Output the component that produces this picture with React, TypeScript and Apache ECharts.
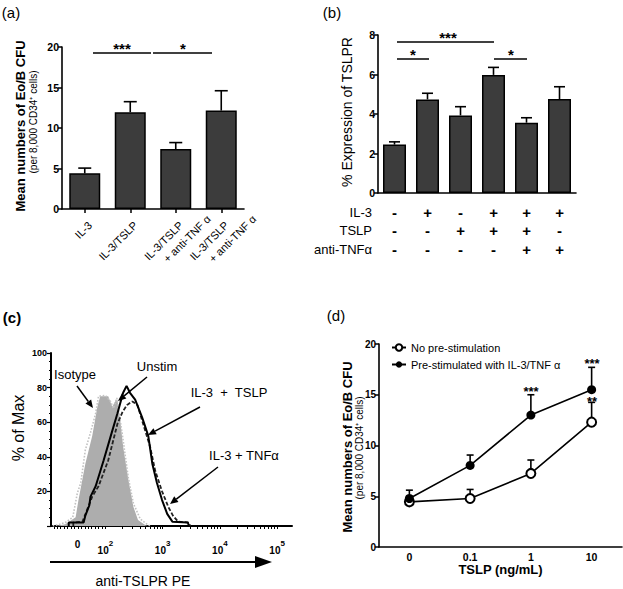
import React, { useEffect, useRef } from "react";
import * as echarts from "echarts";

const FONT = "'Liberation Sans', Arial, Helvetica, sans-serif";

// ---------- (a) ----------
const aCategories = ["IL-3", "IL-3/TSLP", "IL-3/TSLP\n+ anti-TNF α", "IL-3/TSLP\n+ anti-TNF α"];
const aMeans = [4.4, 11.95, 7.4, 12.15];
const aErrTop = [5.05, 13.25, 8.2, 14.6];

// ---------- (b) ----------
const bCategories = ["c1", "c2", "c3", "c4", "c5", "c6"];
const bMeans = [2.45, 4.74, 3.93, 5.98, 3.56, 4.76];
const bErrTop = [2.59, 5.05, 4.37, 6.36, 3.81, 5.38];
const bIL3 = ["-", "+", "-", "+", "+", "+"];
const bTSLP = ["-", "-", "+", "+", "+", "-"];
const bAntiTNF = ["-", "-", "-", "-", "+", "+"];

// ---------- (c) histograms: [log-decade position, % of max] ----------
const cIsotype = [
  [1.08, 0], [1.2, 1], [1.3, 2], [1.43, 5], [1.51, 19], [1.57, 25], [1.65, 44], [1.74, 54],
  [1.83, 65], [1.88, 75], [2.0, 75.5], [2.09, 72], [2.14, 68], [2.2, 74], [2.3, 52],
  [2.4, 28], [2.49, 13], [2.61, 4], [2.73, 1], [2.78, 0],
];
const cUnstim = [
  [1.13, 0], [1.3, 1], [1.48, 5], [1.53, 15], [1.65, 36], [1.77, 52], [1.86, 69], [1.91, 75],
  [2.05, 75], [2.12, 69], [2.17, 72], [2.21, 73], [2.26, 61], [2.31, 46], [2.4, 27],
  [2.49, 11], [2.57, 3.5], [2.7, 0.5], [2.75, 0],
];
const cIL3TSLP = [
  [1.36, 0], [1.36, 2], [1.62, 2], [1.65, 6], [1.72, 12], [1.74, 17], [1.83, 23], [1.97, 38],
  [2.12, 55], [2.21, 65], [2.31, 77], [2.37, 81], [2.43, 77], [2.52, 73], [2.64, 63],
  [2.7, 57], [2.75, 52], [2.82, 36], [2.9, 25], [2.99, 15], [3.08, 7], [3.17, 2.5],
  [3.44, 2], [3.46, 0],
];
const cIL3TNF = [
  [1.44, 0], [1.44, 2], [1.6, 2.5], [1.77, 17], [1.88, 23], [2.05, 38], [2.21, 59], [2.3, 66],
  [2.38, 70], [2.47, 72], [2.56, 70], [2.66, 59], [2.78, 46], [2.87, 32], [2.99, 20],
  [3.1, 11], [3.18, 6], [3.27, 2.5], [3.46, 2], [3.48, 0],
];
const cLabelPos = [1.513, 2, 3, 4, 5];
const cLabelText = ["0", "10|2", "10|3", "10|4", "10|5"];

// ---------- (d) ----------
const dDoses = ["0", "0.1", "1", "10"];
const dNoPre = [4.45, 4.78, 7.25, 12.3];
const dNoPreErr = [5.0, 5.67, 8.57, 14.25];
const dPre = [4.78, 8.04, 13.0, 15.5];
const dPreErr = [5.6, 9.06, 15.0, 17.7];

const axisLineStyle = { show: true, lineStyle: { color: "#000", width: 1.6 } };
const tickStyle = { show: true, length: 4, lineStyle: { color: "#000", width: 1.5 } };
const boldLabel = { color: "#000", fontFamily: FONT, fontWeight: "bold" as const, fontSize: 10.5 };

function errRender(cap: number, lw: number) {
  return (params: any, api: any) => {
    const base = api.coord([api.value(0), api.value(1)]);
    const top = api.coord([api.value(0), api.value(2)]);
    return {
      type: "group",
      children: [
        { type: "line", shape: { x1: base[0], y1: base[1], x2: top[0], y2: top[1] }, style: { stroke: "#000", lineWidth: lw } },
        { type: "line", shape: { x1: top[0] - cap, y1: top[1], x2: top[0] + cap, y2: top[1] }, style: { stroke: "#000", lineWidth: lw } },
      ],
    };
  };
}

function arrow(x1: number, y1: number, x2: number, y2: number, head = 8, w = 3.5, lw = 1.5) {
  const dx = x2 - x1, dy = y2 - y1;
  const L = Math.hypot(dx, dy);
  const ux = dx / L, uy = dy / L;
  const bx = x2 - ux * head, by = y2 - uy * head;
  return [
    { type: "line", z: 100, shape: { x1, y1, x2: bx, y2: by }, style: { stroke: "#000", lineWidth: lw } },
    {
      type: "polygon", z: 100,
      shape: { points: [[x2, y2], [bx - uy * w, by + ux * w], [bx + uy * w, by - ux * w]] },
      style: { fill: "#000" },
    },
  ];
}

function txt(x: number, y: number, text: string, size: number, weight = "normal", rot = 0, align = "center") {
  return {
    type: "text", z: 100, x, y, rotation: rot,
    style: {
      text, fill: "#000", font: `${weight} ${size}px ${FONT}`,
      textAlign: align, textVerticalAlign: "middle", align, verticalAlign: "middle",
    },
  };
}

function hline(x1: number, x2: number, y: number, lw = 1.5) {
  return { type: "line", z: 100, shape: { x1, y1: y, x2, y2: y }, style: { stroke: "#000", lineWidth: lw } };
}

export default function App() {
  const ref = useRef<HTMLDivElement>(null);
  useEffect(() => {
    if (!ref.current) return;
    const chart = echarts.init(ref.current, null, { renderer: "svg" });

    const cTicks: number[] = [];
    for (let v = 1.1; v < 1.99; v += 0.06) cTicks.push(v);
    for (let d = 2; d < 5; d++) for (let k = 1; k < 10; k++) cTicks.push(d + Math.log10(k));
    cTicks.push(5);

    const tableAxis = (data: string[], offset: number, name: string) => ({
      type: "category", gridIndex: 1, data, position: "bottom", offset,
      axisLine: { show: false }, axisTick: { show: false },
      axisLabel: {
        interval: 0, margin: 0, verticalAlign: "middle", color: "#000", fontFamily: FONT,
        fontWeight: "bold", fontSize: 15, lineHeight: 14,
      },
      name, nameLocation: "start", nameGap: 6,
      nameTextStyle: { color: "#000", fontFamily: FONT, fontSize: 13, lineHeight: 14, align: "right", verticalAlign: "middle" },
    });

    const option: any = {
      animation: false,
      backgroundColor: "#fff",
      textStyle: { fontFamily: FONT },
      grid: [
        { left: 62, top: 47, width: 182, height: 162 },
        { left: 378, top: 35, width: 198, height: 158 },
        { left: 51, top: 353, width: 241, height: 173 },
        { left: 379, top: 344, width: 243, height: 203 },
      ],
      xAxis: [
        {
          type: "category", gridIndex: 0, data: aCategories,
          axisLine: axisLineStyle, axisTick: { ...tickStyle, alignWithLabel: true },
          axisLabel: {
            interval: 0, rotate: 45, margin: 9, verticalAlign: "top", color: "#000", fontFamily: FONT, fontSize: 11,
            formatter: (v: string) => {
              const p = v.split("\n");
              if (p.length === 1) return `{a|${v}}`;
              return `{a|${p[0]}}\n{b|${p[1]}}`;
            },
            rich: {
              a: { fontSize: 11, fontFamily: FONT, color: "#000", lineHeight: 15 },
              b: { fontSize: 11, fontFamily: FONT, color: "#000", lineHeight: 15, padding: [0, -24, 0, 5] },
            },
          },
        },
        {
          type: "category", gridIndex: 1, data: bCategories,
          axisLine: axisLineStyle, axisTick: { show: false }, axisLabel: { show: false },
        },
        tableAxis(bIL3, 19, "IL-3"),
        tableAxis(bTSLP, 37, "TSLP"),
        tableAxis(bAntiTNF, 56, "anti-TNFα"),
        {
          type: "value", gridIndex: 2, min: 1.05, max: 5.26, splitLine: { show: false },
          axisLine: { show: true, lineStyle: { color: "#000", width: 2 } },
          axisTick: { show: true, length: 3, customValues: cTicks, lineStyle: { color: "#000", width: 1 } },
          axisLabel: {
            customValues: cLabelPos, margin: 13, color: "#000",
            formatter: (v: number) => {
              const i = cLabelPos.findIndex((p) => Math.abs(p - v) < 1e-6);
              const t = i >= 0 ? cLabelText[i] : "";
              if (!t.includes("|")) return `{z|${t}}`;
              const [base, exp] = t.split("|");
              return `{n|${base}}{e|${exp}}`;
            },
            rich: {
              z: { fontSize: 10, fontWeight: "bold", fontFamily: FONT, color: "#000", lineHeight: 16, verticalAlign: "top" },
              n: { fontSize: 10, fontWeight: "bold", fontFamily: FONT, color: "#000", lineHeight: 16, verticalAlign: "bottom" },
              e: { fontSize: 8, fontWeight: "bold", fontFamily: FONT, color: "#000", lineHeight: 16, verticalAlign: "top" },
            },
          },
        },
        {
          type: "category", gridIndex: 3, data: dDoses,
          axisLine: axisLineStyle, axisTick: { show: false },
          axisLabel: { ...boldLabel, margin: 4 },
          name: "TSLP (ng/mL)", nameLocation: "middle", nameGap: 13,
          nameTextStyle: { color: "#000", fontFamily: FONT, fontWeight: "bold", fontSize: 13 },
        },
      ],
      yAxis: [
        {
          type: "value", gridIndex: 0, min: 0, max: 20, interval: 5, splitLine: { show: false },
          axisLine: axisLineStyle, axisTick: tickStyle, axisLabel: { ...boldLabel, margin: 3 },
        },
        {
          type: "value", gridIndex: 1, min: 0, max: 8, interval: 2, splitLine: { show: false },
          axisLine: axisLineStyle, axisTick: tickStyle, axisLabel: { ...boldLabel, margin: 3 },
        },
        {
          type: "value", gridIndex: 2, min: 0, max: 100, interval: 20, splitLine: { show: false },
          axisLine: { show: true, lineStyle: { color: "#000", width: 2 } },
          axisTick: { show: true, length: 4, lineStyle: { color: "#000", width: 1.2 } },
          minorTick: { show: true, splitNumber: 4, length: 2, lineStyle: { color: "#000", width: 1 } },
          axisLabel: { ...boldLabel, fontSize: 9, margin: 4, formatter: (v: number) => (v === 0 ? "" : String(v)) },
        },
        {
          type: "value", gridIndex: 3, min: 0, max: 20, interval: 5, splitLine: { show: false },
          axisLine: axisLineStyle, axisTick: tickStyle, axisLabel: { ...boldLabel, fontSize: 10, margin: 3 },
        },
      ],
      legend: {
        data: ["No pre-stimulation", "Pre-stimulated with IL-3/TNF α"],
        orient: "vertical", left: 386, top: 337, itemWidth: 14, itemHeight: 8, itemGap: 6,
        textStyle: { color: "#000", fontFamily: FONT, fontSize: 11 },
      },
      series: [
        // (a)
        {
          type: "bar", xAxisIndex: 0, yAxisIndex: 0, data: aMeans, barWidth: 31,
          itemStyle: { color: "#3c3c3c", borderColor: "#000", borderWidth: 1.5 },
        },
        {
          type: "custom", xAxisIndex: 0, yAxisIndex: 0, z: 3,
          data: aMeans.map((m, i) => [i, m, aErrTop[i]]),
          encode: { x: 0, y: [1, 2] }, renderItem: errRender(6.5, 1.6),
        },
        // (b)
        {
          type: "bar", xAxisIndex: 1, yAxisIndex: 1, data: bMeans, barWidth: 23,
          itemStyle: { color: "#3c3c3c", borderColor: "#000", borderWidth: 1.5 },
        },
        {
          type: "custom", xAxisIndex: 1, yAxisIndex: 1, z: 3,
          data: bMeans.map((m, i) => [i, m, bErrTop[i]]),
          encode: { x: 0, y: [1, 2] }, renderItem: errRender(5.5, 1.6),
        },
        // (c)
        {
          type: "line", name: "Unstim", xAxisIndex: 5, yAxisIndex: 2, data: cUnstim, showSymbol: false,
          lineStyle: { width: 0, color: "#adadad" }, areaStyle: { color: "#adadad", opacity: 1 }, z: 2,
        },
        {
          type: "line", name: "Isotype", xAxisIndex: 5, yAxisIndex: 2, data: cIsotype, showSymbol: false,
          lineStyle: { width: 1.6, color: "#c2c2c2", type: "dotted" }, z: 3,
        },
        {
          type: "line", name: "IL-3 + TNFα", xAxisIndex: 5, yAxisIndex: 2, data: cIL3TNF, showSymbol: false,
          lineStyle: { width: 1.8, color: "#222", type: [4, 2] }, z: 4,
        },
        {
          type: "line", name: "IL-3 + TSLP", xAxisIndex: 5, yAxisIndex: 2, data: cIL3TSLP, showSymbol: false,
          lineStyle: { width: 2, color: "#000" }, z: 5,
        },
        // (d)
        {
          type: "custom", xAxisIndex: 6, yAxisIndex: 3, z: 1,
          data: dNoPre.map((m, i) => [i, m, dNoPreErr[i]]),
          encode: { x: 0, y: [1, 2] }, renderItem: errRender(3.5, 1.6),
        },
        {
          type: "custom", xAxisIndex: 6, yAxisIndex: 3, z: 1,
          data: dPre.map((m, i) => [i, m, dPreErr[i]]),
          encode: { x: 0, y: [1, 2] }, renderItem: errRender(3.5, 1.6),
        },
        {
          type: "line", name: "No pre-stimulation", xAxisIndex: 6, yAxisIndex: 3, data: dNoPre,
          symbol: "emptyCircle", symbolSize: 9, itemStyle: { color: "#000", borderWidth: 1.5 },
          lineStyle: { color: "#000", width: 1.6 }, z: 3,
        },
        {
          type: "line", name: "Pre-stimulated with IL-3/TNF α", xAxisIndex: 6, yAxisIndex: 3, data: dPre,
          symbol: "circle", symbolSize: 9, itemStyle: { color: "#000" },
          lineStyle: { color: "#000", width: 1.6 }, z: 3,
        },
      ],
      graphic: [
        // panel labels
        txt(11, 12, "(a)", 15),
        txt(332, 12, "(b)", 15),
        txt(12, 317, "(c)", 15, "bold"),
        txt(336, 315, "(d)", 15),
        // (a) y titles
        txt(20, 126, "Mean numbers of Eo/B CFU", 13, "bold", Math.PI / 2),
        txt(33, 122, "(per 8,000 CD34⁺ cells)", 10, "normal", Math.PI / 2),
        // (a) significance
        hline(93, 151, 53), hline(153, 212, 53),
        txt(122, 48, "***", 15, "bold"),
        txt(183, 48, "*", 15, "bold"),
        // (b) y title
        txt(347, 112, "% Expression of TSLPR", 14, "normal", Math.PI / 2),
        // (b) significance
        hline(397, 494, 42), txt(448, 37, "***", 15, "bold"),
        hline(397, 429, 59), txt(413, 54, "*", 15, "bold"),
        hline(494, 527, 59), txt(511, 54, "*", 15, "bold"),
        // (c) labels
        txt(18, 428, "% of Max", 16, "normal", Math.PI / 2),
        txt(75, 374, "Isotype", 13),
        txt(157, 366, "Unstim", 13),
        txt(229, 392, "IL-3  +  TSLP", 13),
        txt(244, 455, "IL-3 + TNFα", 13),
        ...arrow(77, 386, 93, 408),
        ...arrow(147, 377, 118, 401),
        ...arrow(200, 407, 148, 435),
        ...arrow(218, 467, 170, 504),
        ...arrow(50, 562, 272, 562, 17, 6, 2),
        txt(143, 581, "anti-TSLPR PE", 14),
        // (d) y titles
        txt(347, 447, "Mean numbers of Eo/B CFU", 13, "bold", Math.PI / 2),
        txt(359, 448, "(per 8,000 CD34⁺ cells)", 10, "normal", Math.PI / 2),
        // (d) significance
        txt(531, 391, "***", 13, "bold"),
        txt(592, 363, "***", 13, "bold"),
        txt(592, 401, "**", 13, "bold"),
      ],
    };

    chart.setOption(option);
    return () => chart.dispose();
  }, []);

  return (
    <div
      ref={ref}
      style={{ position: "absolute", left: 0, top: 0, width: 623, height: 589, background: "#fff" }}
    />
  );
}
